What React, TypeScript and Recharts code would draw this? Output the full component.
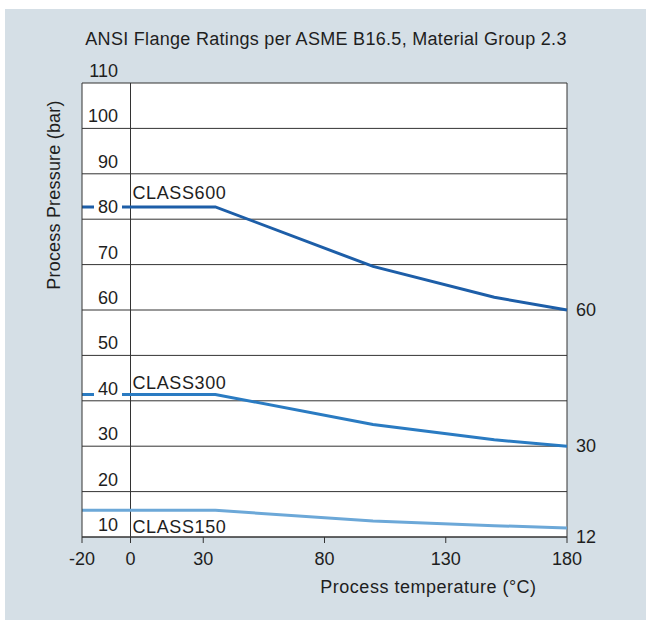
import {
  CartesianGrid,
  Label,
  Line,
  LineChart,
  ReferenceDot,
  ReferenceLine,
  XAxis,
  YAxis,
} from "recharts";

// Pressure-temperature ratings (bar vs °C)
const temperatures = [-20, 35, 100, 150, 180];
const class600 = [82.7, 82.7, 69.6, 62.8, 60];
const class300 = [41.4, 41.4, 34.8, 31.4, 30];
const class150 = [15.9, 15.9, 13.5, 12.5, 12];
const seriesNames = ["CLASS600", "CLASS300", "CLASS150"];

const xTicks = [-20, 0, 30, 80, 130, 180];
const yTicks = [10, 20, 30, 40, 50, 60, 70, 80, 90, 100, 110];

const data = temperatures.map((temp, i) => ({
  temp,
  c600: class600[i],
  c300: class300[i],
  c150: class150[i],
}));

const FONT = "'Liberation Sans', Arial, sans-serif";
const TEXT = "#1e1e1e";
const LINE = "#333";
const PANEL = "#d5dfe6";
const Y_MAX = 110;
const X_END = temperatures[temperatures.length - 1];

const series = [
  { key: "c600", name: seriesNames[0], color: "#1d5ea8", values: class600, labelDy: -8, endDy: 6 },
  { key: "c300", name: seriesNames[1], color: "#2a7bc2", values: class300, labelDy: -5, endDy: 6 },
  { key: "c150", name: seriesNames[2], color: "#6ca8d8", values: class150, labelDy: 23, endDy: 15 },
];

// left tick labels sit inside the plot, just above their grid line
function PressureTick(props: any) {
  const { x, y, payload } = props;
  const right = x + 36;
  const inside = payload.value < Y_MAX;
  return (
    <g>
      {inside && <rect x={right - 24} y={y - 21} width={28} height={18} fill="#fff" />}
      <text x={right} y={y - 6} textAnchor="end" fontSize={18} fill={TEXT} fontFamily={FONT}>
        {payload.value}
      </text>
    </g>
  );
}

function TempTick(props: any) {
  const { x, y, payload } = props;
  return (
    <text x={x} y={y + 22} textAnchor="middle" fontSize={18} fill={TEXT} fontFamily={FONT}>
      {payload.value}
    </text>
  );
}

export default function App() {
  return (
    <div
      style={{
        position: "absolute",
        left: 5,
        top: 9,
        width: 641,
        height: 611,
        background: PANEL,
        fontFamily: FONT,
      }}
    >
      <div
        style={{
          position: "absolute",
          left: 0,
          top: 20,
          width: 642,
          textAlign: "center",
          fontSize: 18,
          letterSpacing: 0.3,
          lineHeight: "21px",
          color: TEXT,
        }}
      >
        ANSI Flange Ratings per ASME B16.5, Material Group 2.3
      </div>
      <LineChart
        width={641}
        height={611}
        data={data}
        margin={{ top: 74, right: 79, bottom: 82, left: 76 }}
      >
        <CartesianGrid vertical={false} stroke={LINE} fill="#fff" />
        <ReferenceLine x={0} stroke={LINE} />
        <ReferenceLine x={X_END} stroke={LINE} />
        {series.map((s) => (
          <Line
            key={s.key}
            type="linear"
            dataKey={s.key}
            stroke={s.color}
            strokeWidth={3}
            dot={false}
            activeDot={false}
            isAnimationActive={false}
          />
        ))}
        {series.map((s) => (
          <ReferenceDot
            key={s.name}
            x={0}
            y={s.values[0]}
            r={0}
            fill="none"
            stroke="none"
            label={
              <Label
                content={(p: any) => (
                  <text
                    x={p.viewBox.x + 2}
                    y={p.viewBox.y + s.labelDy}
                    fontSize={18}
                    letterSpacing={0.6}
                    fill={TEXT}
                    fontFamily={FONT}
                  >
                    {s.name}
                  </text>
                )}
              />
            }
          />
        ))}
        {series.map((s) => (
          <ReferenceDot
            key={s.name + "-end"}
            x={X_END}
            y={s.values[s.values.length - 1]}
            r={0}
            fill="none"
            stroke="none"
            label={
              <Label
                content={(p: any) => (
                  <text
                    x={p.viewBox.x + 9}
                    y={p.viewBox.y + s.endDy}
                    fontSize={18}
                    fill={TEXT}
                    fontFamily={FONT}
                  >
                    {s.values[s.values.length - 1]}
                  </text>
                )}
              />
            }
          />
        ))}
        <XAxis
          dataKey="temp"
          type="number"
          domain={[-20, 180]}
          ticks={xTicks}
          interval={0}
          height={1}
          tickSize={6}
          tickMargin={0}
          tickLine={{ stroke: LINE }}
          axisLine={{ stroke: LINE }}
          tick={<TempTick />}
        >
          <Label
            content={(p: any) => (
              <text
                x={p.viewBox.x + p.viewBox.width / 2 + 104}
                y={p.viewBox.y + 56}
                textAnchor="middle"
                fontSize={18}
                letterSpacing={0.5}
                fill={TEXT}
                fontFamily={FONT}
              >
                Process temperature (°C)
              </text>
            )}
          />
        </XAxis>
        <YAxis
          type="number"
          domain={[10, 110]}
          ticks={yTicks}
          interval={0}
          width={1}
          tickSize={0}
          tickMargin={0}
          tickLine={false}
          axisLine={{ stroke: LINE }}
          tick={<PressureTick />}
        >
          <Label
            content={(p: any) => {
              const lx = p.viewBox.x - 21;
              const ly = p.viewBox.y + 112;
              return (
                <text
                  x={lx}
                  y={ly}
                  transform={`rotate(-90, ${lx}, ${ly})`}
                  textAnchor="middle"
                  fontSize={18}
                  letterSpacing={0.2}
                  fill={TEXT}
                  fontFamily={FONT}
                >
                  Process Pressure (bar)
                </text>
              );
            }}
          />
        </YAxis>
      </LineChart>
    </div>
  );
}
